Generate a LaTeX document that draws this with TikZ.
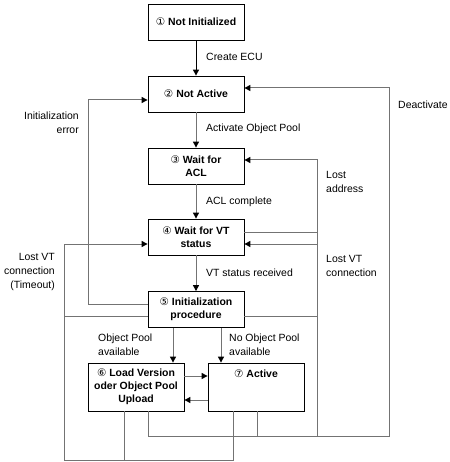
\documentclass[tikz,border=0pt]{standalone}
\usepackage{fontspec}
\setmainfont{Liberation Sans}
\newfontfamily\djv{DejaVu Sans}
\usetikzlibrary{arrows.meta}
\newcommand{\cn}[1]{{\djv\fontseries{m}\selectfont #1}}
\begin{document}
\begin{tikzpicture}[x=1bp,y=-1bp,
  box/.style={draw=black,line width=0.8bp,fill=white,minimum width=96bp,minimum height=36bp,inner sep=1bp,align=center,font=\fontsize{10.5}{13}\selectfont\bfseries},
  conn/.style={draw=gray!90!black,line width=1bp},
  arr/.style={conn,-{Triangle[length=6bp,width=6bp,color=black]}},
  lbl/.style={font=\fontsize{10.5}{14}\selectfont,inner sep=0pt},
]
\useasboundingbox[fill=white] (0,0) rectangle (450,462);
% boxes
\node[box] (b1) at (196,22) {\cn{①} Not Initialized};
\node[box] (b2) at (196,94) {\cn{②} Not Active};
\node[box] (b3) at (196,166) {\cn{③} Wait for\\ACL};
\node[box] (b4) at (196,237) {\cn{④} Wait for VT\\status};
\node[box] (b5) at (196,309.5) {\cn{⑤} Initialization\\procedure};
\node[box,minimum height=48bp] (b6) at (136,387) {\cn{⑥} Load Version\\oder Object Pool\\Upload};
\node[box,minimum height=48bp] (b7) at (256,387) {\cn{⑦} Active\\\mbox{}\\\mbox{}};
% junction coordinates
\coordinate (rb) at (389,436);
\coordinate (mb) at (317,436);
\coordinate (lb) at (64,460);
% main chain
\draw[line width=1bp,-{Triangle[length=6bp,width=6bp]}] (b1.south) -- (b2.north);
\draw[arr] (b2.south) -- (b3.north);
\draw[arr] (b3.south) -- (b4.north);
\draw[arr] (b4.south) -- (b5.north);
\draw[arr] (b5.south -| 173,0) -- (b6.north -| 173,0);
\draw[arr] (b5.south -| 221,0) -- (b7.north -| 221,0);
\draw[arr] (b6.east |- 0,376) -- (b7.west |- 0,376);
\draw[arr] (b7.west |- 0,400) -- (b6.east |- 0,400);
% initialization error
\draw[arr] (b5.west |- 0,304) -- (88,304) -- (88,100) -- (b2.west |- 0,100);
% lost VT connection (timeout)
\draw[arr] (b7.south -| 233,0) -- (233,460) -- (lb) -- (64,244) -- (b4.west |- 0,244);
\draw[conn] (b6.south -| 124,0) -- (124,460);
\draw[conn] (b5.west |- 0,316) -- (64,316);
% deactivate
\draw[arr] (b6.south -| 148,0) -- (148,436) -- (rb) -- (389,88) -- (b2.east |- 0,88);
\draw[conn] (b7.south -| 257,0) -- (257,436);
% lost address / lost VT connection
\draw[arr] (mb) -- (317,160) -- (b3.east |- 0,160);
\draw[conn] (b4.east |- 0,232) -- (317,232);
\draw[arr] (317,244) -- (b4.east |- 0,244);
\draw[conn] (b5.east |- 0,316) -- (317,316);
% labels
\node[lbl,anchor=west] (l1) at (206,57) {Create ECU};
\node[lbl,anchor=west] (l2) at (206,129) {Activate Object Pool};
\node[lbl,anchor=west] (l3) at (206,202) {ACL complete};
\node[lbl,anchor=west] (l4) at (206,273) {VT status received};
\node[lbl,anchor=east,align=right] (l5) at (79,122.5) {Initialization\\error};
\node[lbl,anchor=west] (l6) at (398,105) {Deactivate};
\node[lbl,anchor=west,align=left] (l7) at (326,182) {Lost\\address};
\node[lbl,anchor=east,align=right] (l8) at (55,272) {Lost VT\\connection\\(Timeout)};
\node[lbl,anchor=west,align=left] (l9) at (326,266) {Lost VT\\connection};
\node[lbl,anchor=west,align=left] (l10) at (98,345) {Object Pool\\available};
\node[lbl,anchor=west,align=left] (l11) at (229,345) {No Object Pool\\available};
\end{tikzpicture}
\end{document}
